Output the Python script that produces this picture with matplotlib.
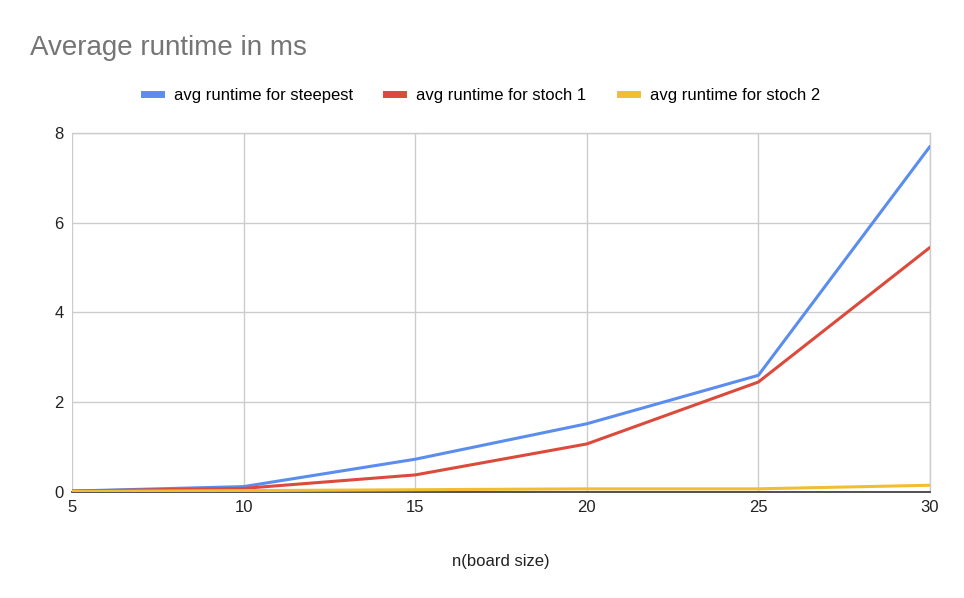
import matplotlib.pyplot as plt
from matplotlib.lines import Line2D

plt.rcParams['font.family'] = ['Liberation Sans', 'DejaVu Sans']

board_size = [5, 10, 15, 20, 25, 30]
steepest = [0.02, 0.12, 0.73, 1.52, 2.60, 7.70]
stoch1 = [0.02, 0.08, 0.38, 1.07, 2.45, 5.45]
stoch2 = [0.01, 0.03, 0.05, 0.07, 0.07, 0.15]

labels = ['avg runtime for steepest', 'avg runtime for stoch 1', 'avg runtime for stoch 2']
colors = ['#5b8def', '#db4a3b', '#f1be32']

fig = plt.figure(figsize=(9.64, 5.98), dpi=100)
ax = fig.add_axes([0.0747, 0.1773, 0.89, 0.6003])

for ys, c in zip([steepest, stoch1, stoch2], colors):
    ax.plot(board_size, ys, color=c, lw=2.2, solid_capstyle='round', zorder=3)

ax.set_xlim(5, 30)
ax.set_ylim(0, 8)
ax.set_xticks(board_size)
ax.set_yticks([0, 2, 4, 6, 8])
ax.grid(True, color='#cccccc', lw=1)
for s in ax.spines.values():
    s.set_visible(False)
ax.axvline(30, color='#cccccc', lw=1, clip_on=False, zorder=1)
ax.axhline(8, color='#cccccc', lw=1, clip_on=False, zorder=1)
ax.axhline(0, color='#333333', lw=1.2, clip_on=False, zorder=2)
ax.tick_params(length=0, labelsize=12, colors='#222222', pad=6)
ax.set_xlabel('n(board size)', fontsize=12, color='#222222', labelpad=28)

fig.text(0.031, 0.92, 'Average runtime in ms', fontsize=20, color='#757575', va='center')

handles = [Line2D([], [], color=c, lw=5) for c in colors]
fig.legend(handles, labels, loc='center', bbox_to_anchor=(0.5, 0.84), ncol=3,
           frameon=False, fontsize=12, handlelength=1.0, columnspacing=2.0)

plt.savefig('out.png', dpi=100)
